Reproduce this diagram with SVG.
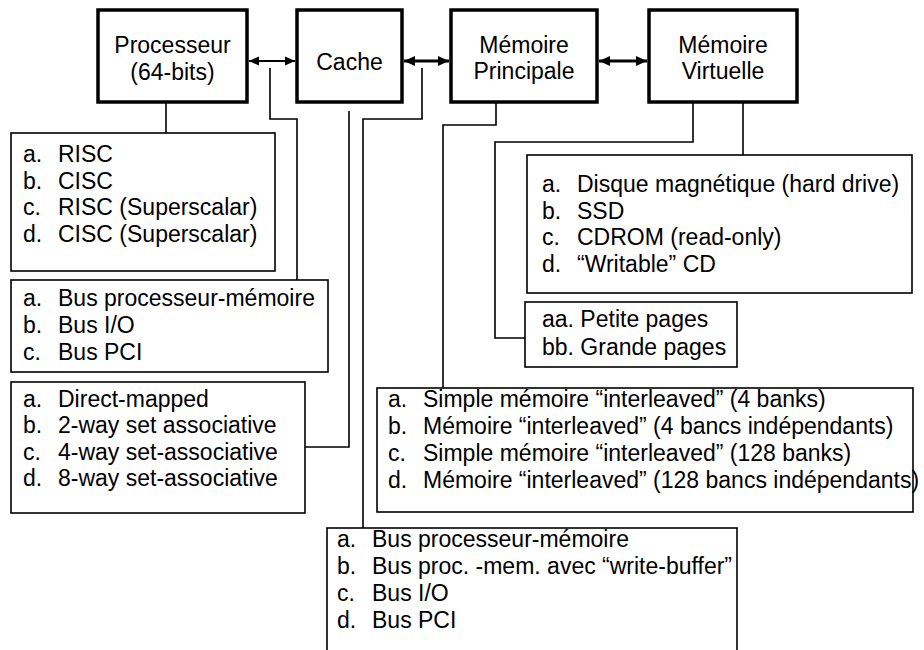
<svg xmlns="http://www.w3.org/2000/svg" width="924" height="650" viewBox="0 0 924 650">
<defs>
<marker id="ah" viewBox="0 0 10 10" refX="10" refY="5" markerWidth="10" markerHeight="10" markerUnits="userSpaceOnUse" orient="auto-start-reverse">
<path d="M0,0.5 L10,5 L0,9.5 z" fill="#000"/>
</marker>
<marker id="ahb" viewBox="0 0 10 10" refX="10" refY="5" markerWidth="11" markerHeight="11" markerUnits="userSpaceOnUse" orient="auto-start-reverse">
<path d="M0,0.5 L10,5 L0,9.5 z" fill="#000"/>
</marker>
</defs>
<style>
text{font-family:"Liberation Sans",Arial,sans-serif;font-size:23px;fill:#000}
.main{fill:#fff;stroke:#000;stroke-width:3.5}
.list{fill:#fff;stroke:#000;stroke-width:1.6}
.conn{fill:none;stroke:#000;stroke-width:1.6}
.mid{text-anchor:middle}
</style>
<rect width="924" height="650" fill="#fff"/>

<g id="connectors">
<line x1="249" y1="61" x2="295" y2="61" stroke="#000" stroke-width="2" marker-start="url(#ah)" marker-end="url(#ah)"/>
<line x1="404" y1="61" x2="449" y2="61" stroke="#000" stroke-width="3" marker-start="url(#ahb)" marker-end="url(#ahb)"/>
<line x1="599" y1="61" x2="647" y2="61" stroke="#000" stroke-width="3" marker-start="url(#ahb)" marker-end="url(#ahb)"/>
<path class="conn" d="M166,102 V133"/>
<path class="conn" d="M270,68 V119 H297 V280"/>
<path class="conn" d="M349,111 V447 H305"/>
<path class="conn" d="M422,68 V119 H363 V528"/>
<path class="conn" d="M496,102 V125 H443 V388"/>
<path class="conn" d="M693,102 V142 H495 V338 H525"/>
<path class="conn" d="M743,102 V155"/>
</g>

<g id="processeur">
<rect class="main" x="98" y="10" width="149" height="92"/>
<text class="mid" x="172.5" y="53">Processeur</text>
<text class="mid" x="172.5" y="80">(64-bits)</text>
</g>
<g id="cache">
<rect class="main" x="297" y="10" width="105" height="92"/>
<text class="mid" x="349.5" y="70">Cache</text>
</g>
<g id="memoire-principale">
<rect class="main" x="451" y="10" width="146" height="92"/>
<text class="mid" x="524" y="53">Mémoire</text>
<text class="mid" x="524" y="79">Principale</text>
</g>
<g id="memoire-virtuelle">
<rect class="main" x="649" y="10" width="148" height="92"/>
<text class="mid" x="723" y="53">Mémoire</text>
<text class="mid" x="723" y="79">Virtuelle</text>
</g>

<g id="list-processeur">
<rect class="list" x="11" y="133" width="264" height="138"/>
<text x="23" y="162">a.</text><text x="58" y="162">RISC</text>
<text x="23" y="189">b.</text><text x="58" y="189">CISC</text>
<text x="23" y="215">c.</text><text x="58" y="215">RISC (Superscalar)</text>
<text x="23" y="242">d.</text><text x="58" y="242">CISC (Superscalar)</text>
</g>
<g id="list-bus1">
<rect class="list" x="11" y="280" width="317" height="92"/>
<text x="23" y="306">a.</text><text x="58" y="306">Bus processeur-mémoire</text>
<text x="23" y="333">b.</text><text x="58" y="333">Bus I/O</text>
<text x="23" y="360">c.</text><text x="58" y="360">Bus PCI</text>
</g>
<g id="list-cache">
<rect class="list" x="11" y="382" width="294" height="131"/>
<text x="23" y="407">a.</text><text x="58" y="407">Direct-mapped</text>
<text x="23" y="433">b.</text><text x="58" y="433">2-way set associative</text>
<text x="23" y="460">c.</text><text x="58" y="460">4-way set-associative</text>
<text x="23" y="486">d.</text><text x="58" y="486">8-way set-associative</text>
</g>
<g id="list-virtuelle">
<rect class="list" x="527" y="155" width="385" height="138"/>
<text x="542" y="192">a.</text><text x="577" y="192">Disque magnétique (hard drive)</text>
<text x="542" y="219">b.</text><text x="577" y="219">SSD</text>
<text x="542" y="245">c.</text><text x="577" y="245">CDROM (read-only)</text>
<text x="542" y="272">d.</text><text x="577" y="272">“Writable” CD</text>
</g>
<g id="list-pages">
<rect class="list" x="525" y="302" width="212" height="65"/>
<text x="542" y="327">aa. Petite pages</text>
<text x="542" y="355">bb. Grande pages</text>
</g>
<g id="list-principale">
<rect class="list" x="377" y="388" width="536" height="124"/>
<text x="388" y="407">a.</text><text x="423" y="407">Simple mémoire “interleaved” (4 banks)</text>
<text x="388" y="434">b.</text><text x="423" y="434">Mémoire “interleaved” (4 bancs indépendants)</text>
<text x="388" y="461">c.</text><text x="423" y="461">Simple mémoire “interleaved” (128 banks)</text>
<text x="388" y="488">d.</text><text x="423" y="488">Mémoire “interleaved” (128 bancs indépendants)</text>
</g>
<g id="list-bus2">
<rect class="list" x="327" y="528" width="410" height="140"/>
<text x="337" y="547">a.</text><text x="372" y="547">Bus processeur-mémoire</text>
<text x="337" y="574">b.</text><text x="372" y="574">Bus proc. -mem. avec “write-buffer”</text>
<text x="337" y="601">c.</text><text x="372" y="601">Bus I/O</text>
<text x="337" y="628">d.</text><text x="372" y="628">Bus PCI</text>
</g>
</svg>
